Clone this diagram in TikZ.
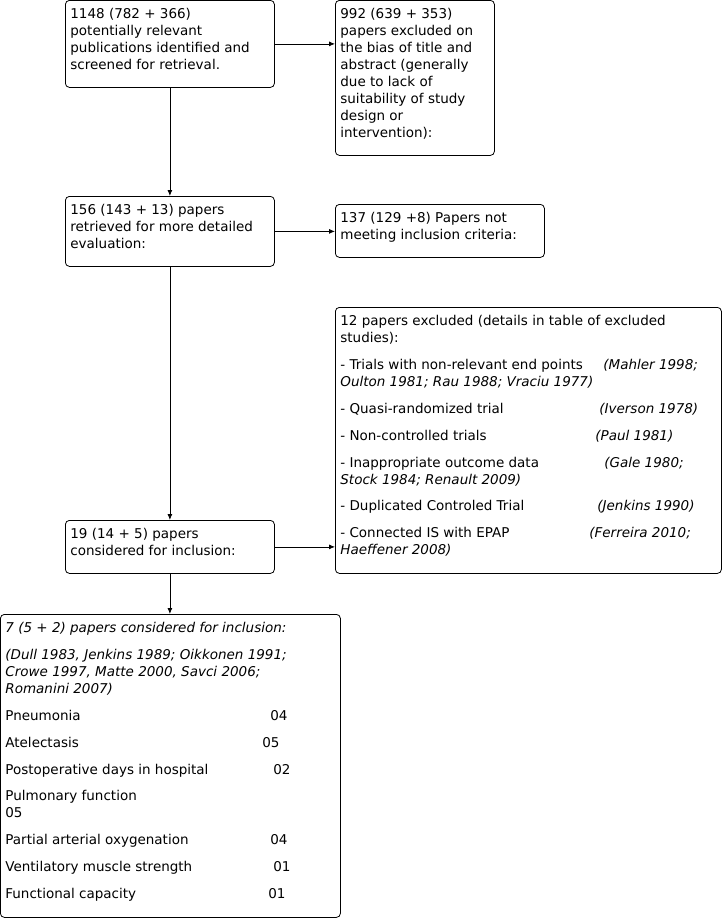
\documentclass[tikz,border=0pt]{standalone}
\usepackage{fontspec}
\setmainfont{DejaVu Sans}
\usetikzlibrary{arrows.meta}

\newcommand{\boxtext}[3]{\parbox[c][#2pt][t]{#1pt}{\raggedright\setlength{\parskip}{9.9pt}\rule{0pt}{18pt}#3}}
\newcommand{\studyref}[1]{\textit{#1}}

\begin{document}
\begin{tikzpicture}[x=1pt,y=-1pt,
  font=\fontsize{13.5}{17}\selectfont,
  flowbox/.style={draw,line width=0.8pt,rounded corners=4pt,anchor=north west,inner xsep=5pt,inner ysep=0pt},
  arr/.style={-{Latex[length=6pt,width=5pt]},line width=0.8pt}]
\useasboundingbox (0,0) rectangle (723,918);

\node[flowbox] (ident) at (65,0) {\boxtext{199}{87}{1148 (782 + 366)\\potentially relevant\\publications identified and\\screened for retrieval.}};
\node[flowbox] (abstr) at (335,0) {\boxtext{149}{155}{992 (639 + 353)\\papers excluded on\\the bias of title and\\abstract (generally\\due to lack of\\suitability of study\\design or\\intervention):}};

\node[flowbox] (retr) at (65,196) {\boxtext{199}{70}{156 (143 + 13) papers\\retrieved for more detailed\\evaluation:}};
\node[flowbox] (crit) at (335,204) {\boxtext{199}{53}{137 (129 +8) Papers not\\meeting inclusion criteria:}};

\node[flowbox] (excl) at (335,307) {\boxtext{376}{266}{12 papers excluded (details in table of excluded\\studies):\par
\makebox[263pt][l]{- Trials with non-relevant end points}\studyref{(Mahler 1998;}\\\studyref{Oulton 1981; Rau 1988; Vraciu 1977)}\par
\makebox[259pt][l]{- Quasi-randomized trial}\studyref{(Iverson 1978)}\par
\makebox[255pt][l]{- Non-controlled trials}\studyref{(Paul 1981)}\par
\makebox[264pt][l]{- Inappropriate outcome data}\studyref{(Gale 1980;}\\\studyref{Stock 1984; Renault 2009)}\par
\makebox[257pt][l]{- Duplicated Controled Trial}\studyref{(Jenkins 1990)}\par
\makebox[249pt][l]{- Connected IS with EPAP}\studyref{(Ferreira 2010;}\\\studyref{Haeffener 2008)}}};

\node[flowbox] (incl) at (65,520) {\boxtext{199}{53}{19 (14 + 5) papers\\considered for inclusion:}};

\node[flowbox] (final) at (0,614) {\boxtext{330}{303}{\studyref{7 (5 + 2) papers considered for inclusion:}\par
\studyref{(Dull 1983, Jenkins 1989; Oikkonen 1991;\\Crowe 1997, Matte 2000, Savci 2006;\\Romanini 2007)}\par
\makebox[265pt][l]{Pneumonia}04\par
\makebox[257pt][l]{Atelectasis}05\par
\makebox[268pt][l]{Postoperative days in hospital}02\par
Pulmonary function\\05\par
\makebox[265pt][l]{Partial arterial oxygenation}04\par
\makebox[268pt][l]{Ventilatory muscle strength}01\par
\makebox[263pt][l]{Functional capacity}01}};

\draw[arr] (ident.south) -- (retr.north);
\draw[arr] (ident.east) -- (ident.east -| abstr.west);
\draw[arr] (retr.east) -- (retr.east -| crit.west);
\draw[arr] (retr.south) -- (incl.north);
\draw[arr] (incl.east) -- (incl.east -| excl.west);
\draw[arr] (incl.south) -- (incl.south |- final.north);
\end{tikzpicture}
\end{document}
